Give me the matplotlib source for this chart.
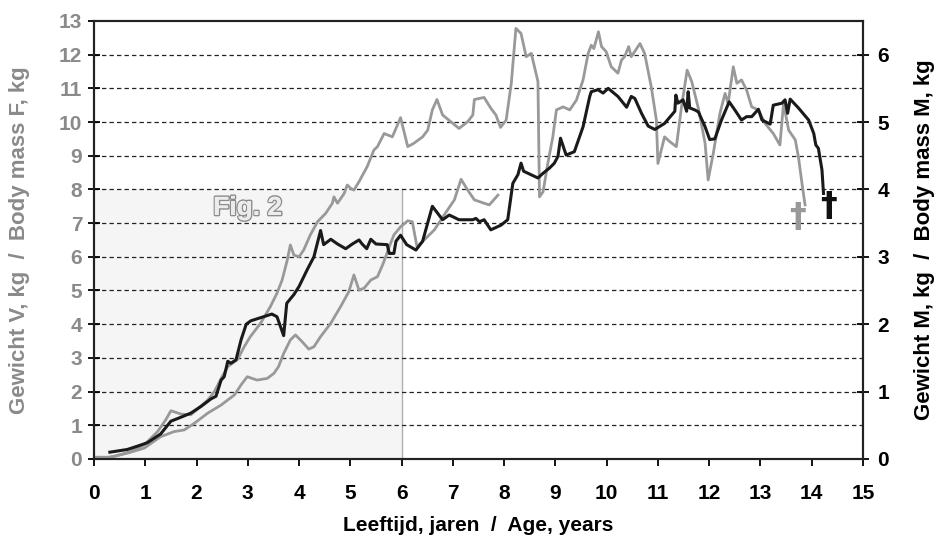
import matplotlib
matplotlib.use("Agg")
import matplotlib.pyplot as plt
import matplotlib.patheffects as pe
from matplotlib.patches import Rectangle

#data
#female 1, left axis, kg
f1_age = [0.00, 0.20, 0.39, 0.72, 0.98, 1.24, 1.40, 1.50, 1.70, 1.89, 2.22, 2.35, 2.48, 2.61, 2.80,
          2.93, 3.05, 3.25, 3.44, 3.57, 3.67, 3.77, 3.83, 3.90, 4.00, 4.09, 4.22, 4.36, 4.52, 4.65,
          4.68, 4.75, 4.88, 4.94, 5.01, 5.07, 5.17, 5.33, 5.46, 5.53, 5.66, 5.82, 5.98, 6.12, 6.24,
          6.41, 6.51, 6.60, 6.69, 6.80, 6.96, 7.12, 7.29, 7.39, 7.42, 7.61, 7.74, 7.84, 7.93, 8.04,
          8.14, 8.23, 8.33, 8.43, 8.53, 8.66, 8.69, 8.76, 8.85, 8.95, 9.02, 9.15, 9.28, 9.41, 9.54,
          9.64, 9.70, 9.75, 9.84, 9.90, 9.99, 10.09, 10.22, 10.29, 10.35, 10.43, 10.48, 10.65, 10.74,
          10.87, 10.97, 11.00, 11.13, 11.23, 11.36, 11.46, 11.57, 11.66, 11.79, 11.92, 11.98, 12.08,
          12.21, 12.31, 12.37, 12.47, 12.54, 12.63, 12.73, 12.83, 12.96, 13.09, 13.25, 13.38, 13.45,
          13.55, 13.68, 13.74, 13.81, 13.87]
f1_mass = [0.05, 0.03, 0.07, 0.22, 0.42, 0.81, 1.16, 1.43, 1.33, 1.31, 1.75, 2.00, 2.39, 2.74, 2.95,
           3.33, 3.63, 4.03, 4.52, 4.92, 5.31, 5.90, 6.35, 6.05, 6.00, 6.20, 6.65, 7.04, 7.29, 7.59,
           7.78, 7.59, 7.88, 8.13, 8.03, 7.98, 8.23, 8.68, 9.17, 9.27, 9.66, 9.56, 10.13, 9.27, 9.37,
           9.56, 9.76, 10.36, 10.67, 10.21, 10.01, 9.81, 10.01, 10.21, 10.67, 10.73, 10.41, 10.21, 9.84, 10.06,
           11.15, 12.78, 12.63, 11.94, 12.04, 11.20, 7.78, 7.93, 8.75, 9.56, 10.36, 10.45, 10.36, 10.65, 11.25,
           12.04, 12.28, 12.18, 12.68, 12.24, 12.09, 11.64, 11.45, 11.84, 11.94, 12.24, 11.94, 12.33, 12.04,
           11.05, 10.06, 8.77, 9.56, 9.42, 9.27, 10.45, 11.54, 11.20, 10.40, 9.37, 8.28, 9.07,
           10.26, 10.85, 10.55, 11.64, 11.15, 11.25, 10.95, 10.45, 10.36, 9.96, 9.66, 9.32, 10.55,
           9.76, 9.47, 8.97, 8.18, 7.54]

#female 2, left axis, kg
f2_age = [0.00, 0.30, 0.65, 0.98, 1.30, 1.56, 1.76, 1.96, 2.22, 2.48, 2.74, 2.87, 2.99, 3.18, 3.38,
          3.51, 3.60, 3.70, 3.83, 3.93, 4.06, 4.19, 4.29, 4.42, 4.62, 4.81, 4.97, 5.07, 5.17, 5.27,
          5.40, 5.53, 5.63, 5.69, 5.76, 5.85, 5.98, 6.12, 6.21, 6.30, 6.44, 6.64, 6.83, 7.03, 7.16,
          7.29, 7.42, 7.61, 7.71, 7.88]
f2_mass = [0.05, 0.05, 0.17, 0.32, 0.66, 0.81, 0.86, 1.06, 1.36, 1.60, 1.90, 2.20, 2.44, 2.34, 2.39,
           2.54, 2.74, 3.13, 3.53, 3.68, 3.48, 3.26, 3.33, 3.63, 4.03, 4.52, 4.96, 5.46, 5.01, 5.07,
           5.31, 5.41, 5.76, 6.00, 6.30, 6.65, 6.89, 7.07, 7.04, 6.30, 6.50, 6.80, 7.24, 7.69, 8.30,
           7.98, 7.69, 7.59, 7.54, 7.83]

#male, right axis, kg
m_age = [0.31, 0.65, 0.85, 1.04, 1.30, 1.50, 1.70, 1.89, 2.09, 2.28, 2.38, 2.48, 2.54, 2.61, 2.67,
         2.77, 2.87, 2.97, 3.06, 3.47, 3.57, 3.70, 3.76, 3.90, 4.00, 4.16, 4.29, 4.39, 4.42, 4.48,
         4.62, 4.75, 4.91, 5.04, 5.17, 5.23, 5.32, 5.40, 5.50, 5.72, 5.76, 5.85, 5.89, 5.98, 6.10,
         6.28, 6.41, 6.60, 6.80, 6.93, 7.12, 7.39, 7.45, 7.52, 7.61, 7.74, 7.94, 8.07, 8.17, 8.27,
         8.33, 8.38, 8.66, 8.76, 8.89, 8.98, 9.05, 9.10, 9.21, 9.37, 9.54, 9.67, 9.70, 9.83, 9.93,
         10.03, 10.22, 10.39, 10.48, 10.55, 10.68, 10.81, 10.94, 11.13, 11.33, 11.35, 11.39, 11.49,
         11.56, 11.59, 11.62, 11.72, 11.79, 11.92, 12.01, 12.11, 12.24, 12.39, 12.50, 12.63, 12.73,
         12.83, 12.96, 13.03, 13.19, 13.25, 13.42, 13.48, 13.53, 13.58, 13.74, 13.94, 14.04, 14.08,
         14.13, 14.20, 14.23]
m_mass = [0.10, 0.14, 0.19, 0.24, 0.37, 0.56, 0.62, 0.68, 0.78, 0.89, 0.93, 1.17, 1.22, 1.45, 1.42,
          1.47, 1.77, 2.00, 2.05, 2.15, 2.11, 1.83, 2.31, 2.44, 2.56, 2.81, 3.00, 3.30, 3.39, 3.18,
          3.26, 3.19, 3.12, 3.19, 3.25, 3.19, 3.12, 3.26, 3.19, 3.18, 3.05, 3.05, 3.23, 3.32, 3.18,
          3.10, 3.23, 3.75, 3.55, 3.62, 3.55, 3.55, 3.57, 3.52, 3.55, 3.40, 3.47, 3.55, 4.09, 4.22,
          4.39, 4.27, 4.17, 4.24, 4.32, 4.39, 4.49, 4.76, 4.51, 4.56, 4.93, 5.38, 5.45, 5.48, 5.43,
          5.50, 5.38, 5.22, 5.38, 5.35, 5.13, 4.94, 4.89, 4.98, 5.16, 5.40, 5.28, 5.33,
          5.16, 5.45, 5.21, 5.18, 5.15, 4.93, 4.74, 4.75, 5.03, 5.30, 5.18, 5.03, 5.08,
          5.08, 5.19, 5.03, 4.97, 5.25, 5.28, 5.33, 5.13, 5.34, 5.21, 5.03, 4.83, 4.66,
          4.61, 4.29, 3.94]

#death marks (age, left axis value)
f_death = (13.72, 7.18)
m_death = (14.32, 7.48)

x_ticks = list(range(0, 16))
left_ticks = list(range(0, 14))
right_ticks = list(range(0, 7))

GRAY = "#999999"
TICKGRAY = "#8a8a8a"
FONT = ["Liberation Sans", "DejaVu Sans"]

fig = plt.figure(figsize=(9.37, 5.38), dpi=100)
ax = fig.add_axes([0.1003, 0.147, 0.8207, 0.814])
ax2 = ax.twinx()

#Fig. 2 box
ax.add_patch(Rectangle((0, 0), 6, 8, facecolor="#f5f5f5", edgecolor="none", zorder=0))
ax.plot([6, 6], [0, 8], color="#b0b0b0", lw=1, zorder=1)

#grid
for y in left_ticks[1:-1]:
    ax.axhline(y, color="#222222", lw=0.9, ls=(0, (3.5, 2.5)), zorder=1)

ax.plot(f2_age, f2_mass, color=GRAY, lw=2.0, zorder=3)
ax.plot(f1_age, f1_mass, color=GRAY, lw=2.0, zorder=3)
ax2.plot(m_age, m_mass, color="#1a1a1a", lw=2.2, zorder=4)

ax.text(3.0, 7.45, "Fig. 2", fontsize=19, fontweight="bold", family=FONT, color="#ececec",
        ha="center", va="center", zorder=2,
        path_effects=[pe.withStroke(linewidth=2.0, foreground="#8c8c8c")])
ax.text(3.0, 7.45, "Fig. 2", fontsize=19, fontweight="bold", family=FONT, color="#ececec",
        ha="center", va="center", zorder=2)

ax.text(f_death[0], f_death[1], "\u2020", fontsize=24, fontweight="bold", color=GRAY,
        ha="center", va="center", zorder=5)
ax.text(m_death[0], m_death[1], "\u2020", fontsize=24, fontweight="bold", color="#111111",
        ha="center", va="center", zorder=5)

ax.set_xlim(0, 15)
ax.set_ylim(0, 13)
ax2.set_ylim(0, 6.5)
ax.set_xticks(x_ticks)
ax.set_yticks(left_ticks)
ax2.set_yticks(right_ticks)

ax.set_xticklabels([str(t) for t in x_ticks], fontsize=15, fontweight="bold", family=FONT)
ax.set_yticklabels([str(t) for t in left_ticks], fontsize=15, fontweight="bold", family=FONT,
                   color=TICKGRAY)
ax2.set_yticklabels([str(t) for t in right_ticks], fontsize=15, fontweight="bold", family=FONT)

ax.tick_params(axis="x", direction="out", length=5, width=1.3, pad=13)
ax.tick_params(axis="y", direction="inout", length=9, width=1.3, pad=4)
ax2.tick_params(axis="y", direction="inout", length=9, width=1.3, pad=6)

for a in (ax, ax2):
    for s in a.spines.values():
        s.set_linewidth(1.5)
        s.set_color("#222222")

ax.set_xlabel("Leeftijd, jaren  /  Age, years", fontsize=15, fontweight="bold", family=FONT,
              va="center")
ax.xaxis.set_label_coords(0.5, -0.152)
ax.set_ylabel("Gewicht V, kg  /  Body mass F, kg", fontsize=16, fontweight="bold", family=FONT,
              color=TICKGRAY, va="center")
ax.yaxis.set_label_coords(-0.097, 0.5)
ax2.set_ylabel("Gewicht M, kg  /  Body mass M, kg", fontsize=16, fontweight="bold", family=FONT,
               va="center")
ax2.yaxis.set_label_coords(1.08, 0.5)

fig.savefig("out.png", dpi=100)
